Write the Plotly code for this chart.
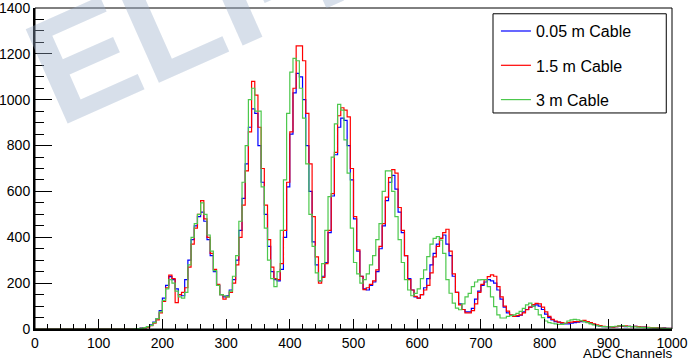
import plotly.graph_objects as go

# ADC spectra, 5-channel bins starting at channel 150 (below that the histograms are empty)
bin_edges = list(range(150, 1005, 5))

counts_005m = [
    0, 1, 2, 4, 6, 10, 18, 30, 45, 80,
    135, 190, 228, 215, 175, 150, 145, 215, 300, 390,
    450, 490, 510, 470, 390, 320, 250, 190, 150, 140,
    145, 170, 215, 300, 430, 570, 720, 880, 960, 940,
    800, 640, 500, 360, 250, 215, 210, 260, 400, 620,
    850, 1030, 1115, 1100, 1000, 800, 600, 380, 280, 210,
    230, 290, 420, 580, 760, 880, 920, 910, 800, 650,
    480, 340, 230, 175, 170, 190, 205, 250, 350, 450,
    560, 640, 670, 610, 510, 420, 320, 220, 170, 140,
    135, 150, 180, 220, 280, 330, 370, 395, 410, 370,
    320, 230, 160, 110, 85, 75, 75, 90, 130, 165,
    190, 205, 215, 210, 200, 170, 130, 95, 70, 60,
    55, 55, 60, 75, 85, 95, 100, 105, 100, 85,
    65, 50, 40, 32, 30, 25, 22, 22, 25, 28,
    30, 32, 32, 30, 25, 20, 15, 12, 10, 10,
    8, 8, 10, 12, 12, 10, 12, 10, 12, 10,
    8, 8, 6, 6, 5, 5, 4, 5, 3, 3,
]

counts_15m = [
    0, 0, 1, 3, 5, 8, 15, 25, 40, 70,
    120, 180, 235, 220, 115, 150, 160, 180, 270, 370,
    440, 500, 560, 480, 400, 330, 260, 195, 150, 130,
    140, 160, 200, 280, 400, 540, 690, 860, 1080, 1020,
    880, 700, 540, 390, 270, 220, 215, 285, 430, 640,
    860, 1050, 1235, 1235, 1170, 940, 720, 490, 315, 200,
    225, 285, 430, 590, 770, 930, 965, 955, 925, 700,
    490, 345, 230, 172, 180, 195, 210, 258, 360, 460,
    575, 660, 695, 680, 530, 430, 320, 215, 170, 142,
    135, 150, 170, 190, 245, 315, 360, 395, 420, 435,
    340, 240, 160, 105, 85, 70, 70, 80, 110, 160,
    195, 215, 228, 236, 230, 185, 140, 100, 78, 62,
    55, 58, 62, 70, 84, 95, 106, 112, 110, 95,
    75, 55, 42, 35, 30, 28, 25, 28, 30, 32,
    32, 35, 38, 32, 28, 22, 18, 15, 12, 10,
    10, 8, 10, 14, 12, 14, 12, 10, 12, 10,
    8, 8, 7, 6, 6, 5, 4, 4, 3, 3,
]

counts_3m = [
    0, 1, 2, 3, 6, 10, 16, 28, 45, 75,
    125, 175, 215, 200, 165, 140, 135, 160, 280, 400,
    460, 500, 550, 500, 410, 340, 255, 190, 150, 145,
    140, 165, 230, 320, 470, 640, 800, 1000, 1050, 950,
    950, 620, 440, 300, 220, 185, 250, 430, 650, 940,
    1120, 1180, 1170, 1050, 920, 720, 500, 360, 245, 210,
    285, 430, 577, 750, 895, 980, 955, 825, 680, 440,
    290, 240, 200, 215, 240, 280, 320, 390, 460, 600,
    690, 690, 600, 490, 390, 290, 215, 170, 145, 155,
    175, 220, 258, 316, 370, 395, 403, 388, 330, 215,
    156, 113, 91, 84, 110, 140, 155, 185, 205, 214,
    215, 215, 185, 140, 98, 62, 48, 48, 55, 58,
    62, 68, 77, 90, 105, 113, 100, 85, 62, 50,
    35, 28, 25, 22, 20, 20, 25, 35, 40, 42,
    40, 36, 32, 28, 22, 18, 15, 12, 10, 10,
    9, 10, 12, 14, 15, 12, 10, 10, 9, 8,
    7, 6, 6, 5, 5, 4, 4, 3, 3, 2,
]

series_names = ['0.05 m Cable', '1.5 m Cable', '3 m Cable']
series_colors = ['#0000ff', '#ff0000', '#4cc84c']
series_counts = [counts_005m, counts_15m, counts_3m]

FONT = 'Liberation Sans, Arial, sans-serif'

fig = go.Figure()

for name, color, counts in zip(series_names, series_colors, series_counts):
    # step histogram: empty region from 0, then one step per bin
    x = [0] + bin_edges
    y = [0] + counts + [counts[-1]]
    fig.add_trace(go.Scatter(
        x=x, y=y, mode='lines', name=name, legendgroup=name,
        line=dict(color=color, width=1.2, shape='hv'),
    ))

# faint "ELI-NP" watermark in the upper left
fig.add_annotation(
    text='<b>ELI-NP</b>', xref='paper', yref='paper', x=0, y=1,
    xanchor='center', yanchor='middle', xshift=227, yshift=28,
    textangle=-24, showarrow=False,
    font=dict(family=FONT, size=150, color='rgba(150,170,200,0.38)'),
)

# x axis title sits bottom right, like ROOT
fig.add_annotation(
    text='ADC Channels', xref='paper', yref='paper', x=1, y=0,
    xanchor='right', yanchor='top', xshift=3, yshift=-15, showarrow=False,
    font=dict(family=FONT, size=13.5, color='black'),
)

# thin frame on top/right and the legend box
fig.add_shape(type='rect', xref='paper', yref='paper', x0=0, x1=1, y0=0, y1=1,
              line=dict(color='black', width=1))
fig.add_shape(type='rect', xref='paper', yref='paper',
              x0=0.719, x1=0.991, y0=0.673, y1=0.982,
              line=dict(color='black', width=1), fillcolor='white', layer='below')

fig.update_xaxes(
    range=[0, 1000], dtick=100, showgrid=False, zeroline=False, automargin=False,
    showline=True, linecolor='black', linewidth=2,
    ticks='inside', ticklen=10, tickcolor='black', ticklabeloverflow='allow',
    minor=dict(dtick=20, ticks='inside', ticklen=5, tickcolor='black'),
    tickfont=dict(family=FONT, size=14, color='black'),
)
fig.update_yaxes(
    range=[0, 1400], dtick=200, showgrid=False, zeroline=False, automargin=False,
    showline=True, linecolor='black', linewidth=2,
    ticks='inside', ticklen=17, tickcolor='black', ticklabeloverflow='allow',
    minor=dict(dtick=50, ticks='inside', ticklen=9, tickcolor='black'),
    tickfont=dict(family=FONT, size=14, color='black'),
)

fig.update_layout(
    width=689, height=362,
    margin=dict(l=35, r=17, t=8, b=33),
    plot_bgcolor='white', paper_bgcolor='white',
    showlegend=True,
    legend=dict(
        x=0.7236, y=0.981, xanchor='left', yanchor='top',
        bgcolor='rgba(0,0,0,0)', borderwidth=0,
        tracegroupgap=10.5,
        font=dict(family=FONT, size=16, color='black'),
    ),
)

# drop the browser's default 8px body margin so the figure sits at the page corner
fig.write_html("out.html", config={'displayModeBar': False},
               post_script="document.body.style.margin = '0';")
